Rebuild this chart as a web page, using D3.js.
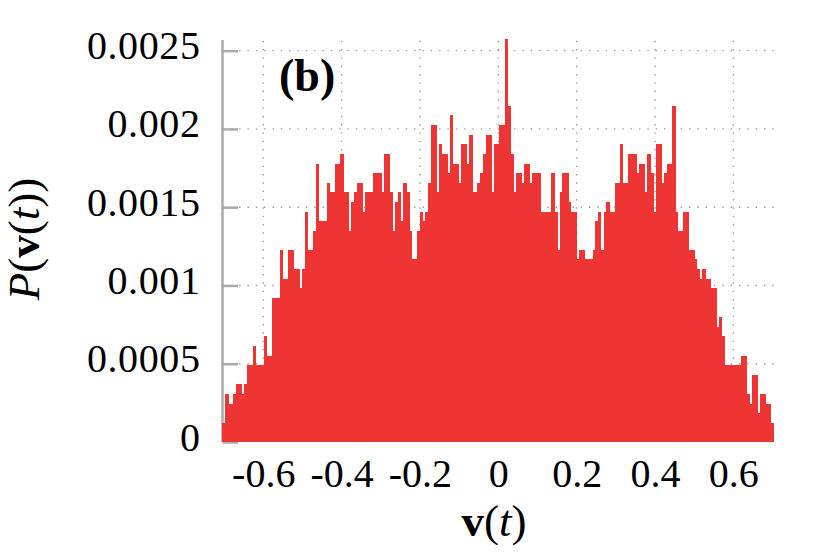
<!DOCTYPE html>
<html>
<head>
<meta charset="utf-8">
<script src="https://cdn.jsdelivr.net/npm/d3@7"></script>
<style>
  html, body { margin: 0; padding: 0; background: #fff; }
  svg { display: block; }
  text { font-family: "Liberation Serif", "Times New Roman", serif; fill: #000; }
</style>
</head>
<body>
<svg id="chart" width="830" height="554"></svg>
<script>
// ---- data ----
const binStart = -0.7;      // centre of first bin
const binWidth = 0.007;     // bin spacing
const density = [
  0.000123,0.000307,0.000245,0.000245,0.000307,0.000368,0.000368,0.000307,0.000368,0.000491,
  0.000491,0.000614,0.000491,0.000491,0.000491,0.000675,0.000552,0.000552,0.000920,0.000920,
  0.000920,0.001227,0.001043,0.001043,0.001227,0.001227,0.001104,0.001104,0.000982,0.001104,
  0.001472,0.001227,0.001227,0.001350,0.001779,0.001411,0.001411,0.001411,0.001657,0.001595,
  0.001595,0.001779,0.001779,0.001841,0.001595,0.001595,0.001350,0.001534,0.001595,0.001657,
  0.001657,0.001472,0.001595,0.001595,0.001595,0.001718,0.001718,0.001718,0.001595,0.001841,
  0.001841,0.001595,0.001350,0.001534,0.001595,0.001411,0.001657,0.001595,0.001350,0.001166,
  0.001166,0.001350,0.001472,0.001411,0.001472,0.001657,0.002025,0.002025,0.001595,0.001902,
  0.001841,0.001841,0.001718,0.002086,0.001779,0.001779,0.001657,0.001902,0.001902,0.001779,
  0.001963,0.001595,0.001595,0.001657,0.001718,0.001841,0.001963,0.001963,0.001595,0.001902,
  0.001902,0.002025,0.002025,0.002577,0.002147,0.001841,0.001595,0.001718,0.001718,0.001657,
  0.001779,0.001779,0.001657,0.001718,0.001718,0.001718,0.001472,0.001472,0.001472,0.001472,
  0.001718,0.001472,0.001227,0.001595,0.001718,0.001718,0.001534,0.001472,0.001472,0.001166,
  0.001227,0.001227,0.001166,0.001166,0.001166,0.001227,0.001411,0.001472,0.001227,0.001472,
  0.001534,0.001472,0.001472,0.001657,0.001657,0.001902,0.001657,0.001657,0.001841,0.001841,
  0.001841,0.001718,0.001779,0.001779,0.001595,0.001841,0.001718,0.001472,0.001902,0.001902,
  0.001657,0.001718,0.001779,0.001779,0.002147,0.001472,0.001350,0.001350,0.001472,0.001472,
  0.001227,0.001227,0.001166,0.001104,0.001043,0.001104,0.001043,0.001043,0.000982,0.000982,
  0.000736,0.000798,0.000675,0.000491,0.000491,0.000491,0.000491,0.000491,0.000491,0.000552,
  0.000552,0.000307,0.000245,0.000430,0.000430,0.000184,0.000307,0.000307,0.000245,0.000245,
  0.000123
];
const xTicks = [-0.6, -0.4, -0.2, 0, 0.2, 0.4, 0.6];
const xTickLabels = ["-0.6", "-0.4", "-0.2", "0", "0.2", "0.4", "0.6"];
const yTicks = [0, 0.0005, 0.001, 0.0015, 0.002, 0.0025];
const yTickLabels = ["0", "0.0005", "0.001", "0.0015", "0.002", "0.0025"];
const xDomain = [-0.704, 0.704];
const yDomain = [0, 0.002568];

// ---- layout ----
const svg = d3.select("#chart");
const plotL = 222.5, plotR = 774.1, plotT = 40, plotB = 442;
const barColor = "#ef3434";
const gridColor = "#9a9a9a";
const axisColor = "#aaaaaa";

const x = d3.scaleLinear().domain(xDomain).range([plotL, plotR]);
const y = d3.scaleLinear().domain(yDomain).range([plotB, plotT]);

// grid
const grid = svg.append("g");
grid.selectAll("line.h").data(yTicks.filter(d => d > 0)).enter().append("line")
  .attr("class", "h")
  .attr("x1", plotL).attr("x2", plotR)
  .attr("y1", d => y(d)).attr("y2", d => y(d))
  .attr("stroke", gridColor).attr("stroke-width", 1.4)
  .attr("stroke-dasharray", "1.4,6.93");
grid.selectAll("line.v").data(xTicks).enter().append("line")
  .attr("class", "v")
  .attr("x1", d => x(d)).attr("x2", d => x(d))
  .attr("y1", plotB).attr("y2", plotT)
  .attr("stroke", gridColor).attr("stroke-width", 1.4)
  .attr("stroke-dasharray", "1.4,6.93");

// y axis
const yAxis = d3.axisLeft(y)
  .tickValues(yTicks)
  .tickFormat((d, i) => yTickLabels[i])
  .tickSize(-15.5)
  .tickPadding(22);
const gy = svg.append("g").attr("transform", `translate(${plotL},0)`).call(yAxis);
gy.select(".domain").attr("stroke", axisColor).attr("stroke-width", 2.5)
  .attr("d", `M0,${plotT}V${plotB}`);
gy.selectAll(".tick line").attr("stroke", axisColor).attr("stroke-width", 2.5);
gy.selectAll(".tick text")
  .attr("dy", "8px")
  .style("font-family", '"Liberation Serif", serif')
  .style("font-size", "40px")
  .style("letter-spacing", "0.6px")
  .attr("fill", "#111");

// bars (impulses)
const bins = density.map((v, i) => ({ c: binStart + i * binWidth, v }));
svg.append("g").attr("shape-rendering", "crispEdges")
  .selectAll("line").data(bins).enter().append("line")
  .attr("x1", d => x(d.c)).attr("x2", d => x(d.c))
  .attr("y1", y(0)).attr("y2", d => y(d.v))
  .attr("stroke", barColor).attr("stroke-width", 3.4);

// x axis (labels only)
const xAxis = d3.axisBottom(x)
  .tickValues(xTicks)
  .tickFormat((d, i) => xTickLabels[i])
  .tickSize(0)
  .tickPadding(0);
const gx = svg.append("g").attr("transform", `translate(0,${plotB})`).call(xAxis);
gx.select(".domain").remove();
gx.selectAll(".tick text")
  .attr("y", 0).attr("dy", "44.5px")
  .style("font-family", '"Liberation Serif", serif')
  .style("font-size", "40px")
  .attr("fill", "#111");

// axis titles
const xl = svg.append("text")
  .attr("x", 494).attr("y", 536)
  .attr("text-anchor", "middle")
  .style("font-size", "45px");
xl.append("tspan").attr("font-weight", "bold").text("v");
xl.append("tspan").text("(");
xl.append("tspan").attr("font-style", "italic").text("t");
xl.append("tspan").text(")");

const yl = svg.append("text")
  .attr("transform", "translate(39,239) rotate(-90)")
  .attr("text-anchor", "middle")
  .style("font-size", "45px");
yl.append("tspan").attr("font-style", "italic").text("P");
yl.append("tspan").text("(");
yl.append("tspan").attr("font-weight", "bold").text("v");
yl.append("tspan").text("(");
yl.append("tspan").attr("font-style", "italic").text("t");
yl.append("tspan").text("))");

// panel label
svg.append("text")
  .attr("x", 279).attr("y", 91)
  .attr("font-weight", "bold")
  .style("font-size", "46px")
  .text("(b)");
</script>
</body>
</html>
